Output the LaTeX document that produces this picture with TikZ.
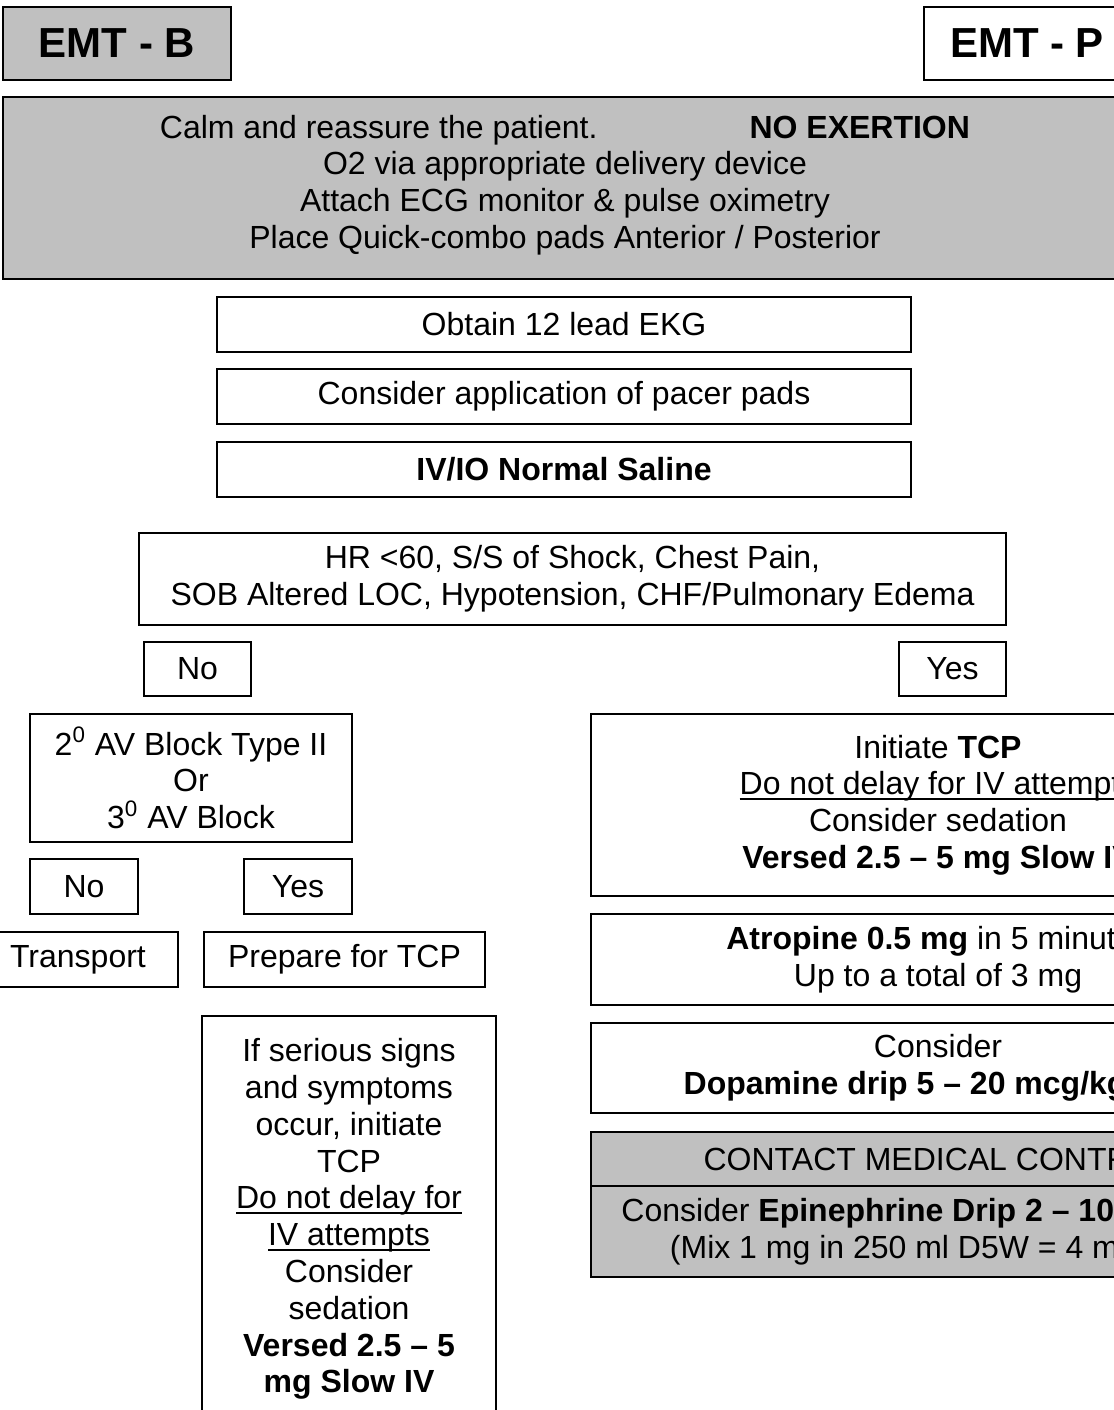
\documentclass[tikz,border=0pt]{standalone}
\usepackage{fontspec}
\setmainfont{Liberation Sans}
\definecolor{boxgray}{HTML}{C0C0C0}
\newcommand\myul[1]{\setbox0\hbox{#1}\rlap{\rule[-2.6pt]{\wd0}{0.9pt}}\box0}
\begin{document}
\begin{tikzpicture}[x=0.5pt,y=-0.5pt,
  box/.style={draw=black, line width=1pt, inner sep=0pt, align=center,
    font=\fontsize{16}{18.4}\selectfont},
  greybox/.style={box, fill=boxgray},
  txt/.style={inner sep=0pt, align=center, font=\fontsize{16}{18.4}\selectfont},
  title/.style={font=\fontsize{21}{24}\selectfont\bfseries}]
\useasboundingbox (0,0) rectangle (1114,1410);
\clip (0,0) rectangle (1114,1410);

% headers
\node[greybox, title, minimum width=114pt, minimum height=36.5pt] (emtb) at (117,43.5) {EMT - B};
\node[box, title, minimum width=103pt, minimum height=36.5pt] (emtp) at (1027,43.5) {EMT - P};

% top grey box
\node[greybox, minimum width=562pt, minimum height=91pt] (top) at (565,188) {};
\node[txt] (topT) at (565,185)
  {Calm and reassure the patient.\hspace*{76pt}\textbf{NO EXERTION}\\
   O2 via appropriate delivery device\\
   Attach ECG monitor \& pulse oximetry\\
   Place Quick-combo pads Anterior / Posterior};

% middle column
\node[box, minimum width=347pt, minimum height=27.5pt] (ekg) at (564,324.5) {Obtain 12 lead EKG};
\node[box, minimum width=347pt, minimum height=27.5pt] (pacer) at (564,396.5) {Consider application of pacer pads};
\node[box, minimum width=347pt, minimum height=27.5pt] (saline) at (564,469.5) {\textbf{IV/IO Normal Saline}};

\node[box, minimum width=433.5pt, minimum height=46pt] (hr) at (572.5,579)
  {HR <60, S/S of Shock, Chest Pain,\\SOB Altered LOC, Hypotension, CHF/Pulmonary Edema};

\node[box, minimum width=53.5pt, minimum height=27pt] (no1) at (197.5,669) {No};
\node[box, minimum width=53.5pt, minimum height=27pt] (yes1) at (952.5,669) {Yes};

% left branch
\node[box, minimum width=161pt, minimum height=64pt] (av) at (191,778)
  {2\textsuperscript{0} AV Block Type II\\Or\\3\textsuperscript{0} AV Block};
\node[box, minimum width=54pt, minimum height=27.5pt] (no2) at (84,886.5) {No};
\node[box, minimum width=54pt, minimum height=27.5pt] (yes2) at (298,886.5) {Yes};
\node[box, minimum width=100pt, minimum height=27.5pt] (transport) at (78,959.5) {Transport};
\node[box, minimum width=140.5pt, minimum height=27.5pt] (prepare) at (344.5,959.5) {Prepare for TCP};

\node[box, minimum width=147pt, minimum height=222pt] (serious) at (349,1238) {};
\node[txt, anchor=north] (seriousT) at (349,1038)
  {If serious signs\\and symptoms\\occur, initiate\\TCP\\\myul{Do not delay for}\\\myul{IV attempts}\\Consider\\sedation\\\textbf{Versed 2.5 – 5}\\\textbf{mg Slow IV}};

% right branch
\node[box, minimum width=347pt, minimum height=91pt] (tcp) at (938,805)
  {Initiate \textbf{TCP}\\\myul{Do not delay for IV attempts}\\Consider sedation\\\textbf{Versed 2.5 – 5 mg Slow IV}};
\node[box, minimum width=347pt, minimum height=45.5pt] (atropine) at (938,959.5)
  {\textbf{Atropine 0.5 mg} in 5 minutes\\Up to a total of 3 mg};
\node[box, minimum width=347pt, minimum height=45pt] (dopamine) at (938,1068)
  {Consider\\\textbf{Dopamine drip 5 – 20 mcg/kg/min}};
\node[greybox, minimum width=347pt, minimum height=27pt] (contact) at (938,1159)
  {CONTACT MEDICAL CONTROL};
\node[greybox, minimum width=347pt, minimum height=45.5pt] (epi) at (938,1231.5)
  {Consider \textbf{Epinephrine Drip 2 – 10 mcg/min}\\(Mix 1 mg in 250 ml D5W = 4 mcg/ml)};
\end{tikzpicture}
\end{document}
